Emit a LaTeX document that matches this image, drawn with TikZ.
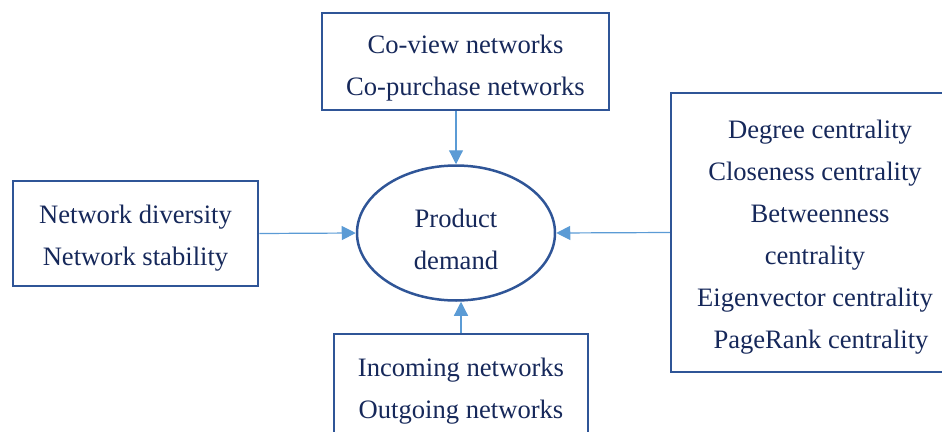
\documentclass[tikz,border=0pt]{standalone}
\usepackage{fontspec}
\setmainfont{Liberation Serif}
\usetikzlibrary{shapes.geometric,arrows.meta}

\definecolor{boxblue}{RGB}{47,85,151}
\definecolor{arrowblue}{RGB}{91,155,213}
\definecolor{textnavy}{RGB}{22,40,90}

% centred lines, lowered a little inside their frame
\newcommand{\stacked}[2]{\raisebox{-#1}[\height][\depth]{\begin{tabular}{@{}c@{}}#2\end{tabular}}}

\begin{document}
\begin{tikzpicture} [
    x=1pt, y=-1pt,
    block/.style    = { rectangle, draw=boxblue, line width=2.5pt, text=textnavy,
                        inner sep=0pt,
                        font=\fontsize{26.6}{42}\selectfont },
    demand/.style   = { ellipse, draw=boxblue, line width=2.5pt, text=textnavy,
                        inner sep=0pt,
                        minimum width=198pt, minimum height=135pt,
                        font=\fontsize{26.6}{42}\selectfont },
    line/.style     = { draw=arrowblue, line width=1.2pt,
                        -{Triangle[length=14pt,width=14pt]} },
  ]
  \useasboundingbox (0,0) rectangle (942,431);

  % Define nodes
  \node[demand] (product) at (456,233) {\stacked{7.5pt}{Product\\demand}};
  \node[block, minimum width=287pt, minimum height=97pt] (copurch) at (465.5,61.5)
    {\stacked{5pt}{Co-view networks\\Co-purchase networks}};
  \node[block, minimum width=245pt, minimum height=105pt] (diverse) at (135.5,233.5)
    {\stacked{2.5pt}{Network diversity\\Network stability}};
  \node[block, minimum width=254pt, minimum height=110pt] (inout) at (461,389)
    {\stacked{0pt}{Incoming networks\\Outgoing networks}};
  \node[block, minimum width=288pt, minimum height=279pt] (central) at (815,232.5)
    {\stacked{2.5pt}{\hspace*{10pt}Degree centrality\\Closeness centrality\\\hspace*{10pt}Betweenness\\centrality\\Eigenvector centrality\\\hspace*{12pt}PageRank centrality}};

  % connect the nodes
		\path [line] (copurch.south -| product) -- (product.north);
		\path [line] (diverse.east) -- (product.west);
		\path [line] (central.west) -- (product.east);
		\path [line] (inout.north) -- (inout.north |- product.south);
\end{tikzpicture}
\end{document}
